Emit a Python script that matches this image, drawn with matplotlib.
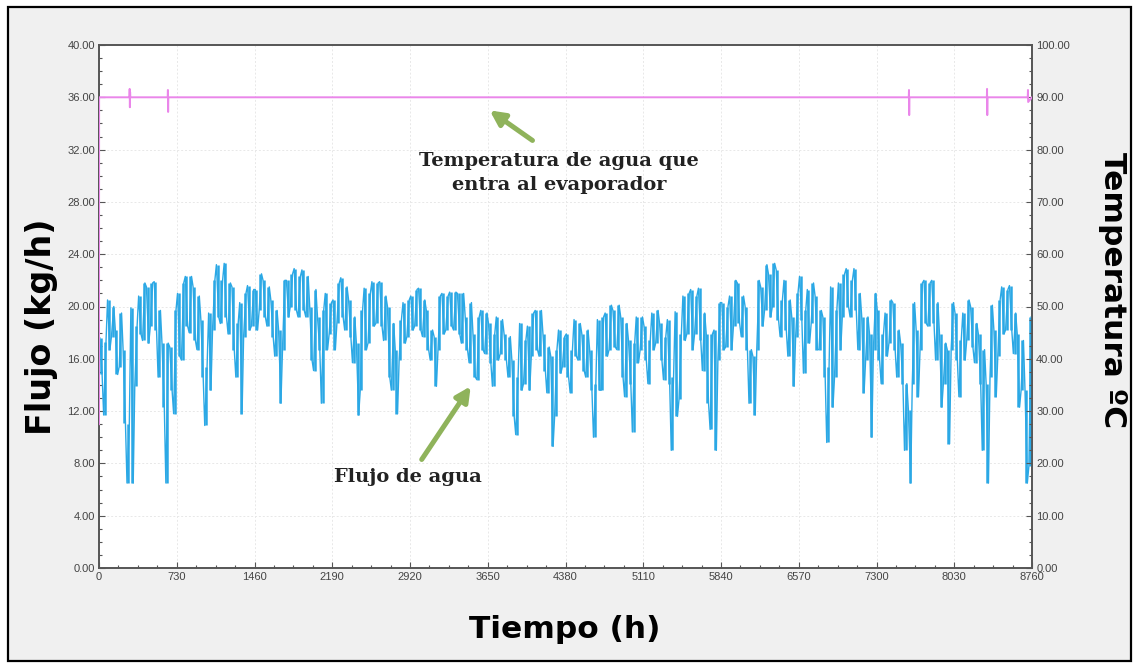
"""Flujo de agua y temperatura de entrada al evaporador a lo largo de un año (8760 h)."""

import matplotlib

matplotlib.use("Agg")
import matplotlib.pyplot as plt
import numpy as np
from matplotlib.patches import Rectangle
from matplotlib.ticker import MultipleLocator, FormatStrFormatter

# Flujo de agua (kg/h): máximo y mínimo leídos por tramos de 36.5 h
FLUJO_MAX = [
    17.6, 17.3, 20.5, 20.0, 18.2, 19.5, 16.7, 11.0, 19.9, 18.5,
    20.8, 21.8, 21.5, 21.8, 21.9, 19.7, 17.2, 17.2, 16.9, 19.7,
    21.0, 21.8, 22.3, 22.3, 21.5, 20.8, 19.0, 15.4, 19.5, 22.0,
    23.2, 22.0, 23.3, 21.8, 21.5, 18.7, 20.3, 21.0, 21.6, 21.3,
    21.3, 22.5, 22.0, 21.5, 20.5, 19.7, 18.2, 22.0, 22.0, 22.5,
    22.9, 22.3, 22.8, 22.3, 20.0, 21.3, 19.2, 19.7, 21.0, 20.3,
    20.5, 21.8, 22.2, 21.5, 20.5, 19.2, 17.2, 19.7, 21.4, 21.0,
    21.9, 21.8, 21.9, 20.8, 20.0, 18.7, 16.7, 19.0, 20.3, 20.5,
    20.8, 21.3, 21.4, 20.5, 19.7, 18.2, 17.7, 20.8, 21.0, 20.8,
    21.1, 21.1, 21.0, 21.0, 19.2, 20.3, 17.9, 19.2, 19.7, 19.5,
    18.7, 17.9, 19.2, 19.0, 17.9, 17.7, 15.9, 14.6, 18.7, 17.4,
    18.5, 19.5, 19.7, 19.7, 17.9, 16.9, 16.2, 16.7, 18.2, 17.7,
    17.9, 16.7, 19.0, 18.7, 17.9, 18.2, 16.7, 14.1, 19.0, 19.2,
    19.5, 20.1, 19.7, 20.1, 19.2, 18.7, 17.4, 17.2, 19.2, 19.2,
    18.5, 17.4, 19.5, 19.7, 18.7, 17.7, 19.0, 14.6, 19.6, 17.9,
    20.8, 21.0, 21.3, 20.8, 21.4, 19.5, 17.9, 17.9, 18.2, 20.3,
    20.3, 20.0, 20.8, 22.0, 21.8, 20.8, 20.0, 16.7, 16.2, 22.0,
    21.5, 23.2, 22.5, 23.3, 22.8, 20.5, 22.0, 20.5, 19.2, 21.0,
    22.3, 19.7, 21.3, 21.8, 20.8, 19.7, 19.2, 15.4, 21.5, 19.7,
    21.8, 22.5, 22.9, 22.0, 22.9, 21.0, 19.2, 19.2, 17.9, 21.0,
    19.7, 17.9, 19.5, 20.5, 20.3, 18.2, 17.2, 14.1, 12.1, 20.3,
    18.2, 21.8, 22.0, 21.8, 22.0, 20.3, 17.9, 17.2, 16.7, 20.3,
    19.5, 17.4, 19.5, 20.5, 20.0, 18.7, 17.9, 16.7, 14.1, 20.1,
    18.2, 20.5, 21.5, 21.3, 21.6, 19.5, 17.9, 17.4, 13.6, 19.2,
]
FLUJO_MIN = [
    14.8, 11.7, 16.7, 17.7, 14.8, 15.4, 11.1, 6.5, 6.5, 13.9,
    17.9, 17.4, 17.2, 18.5, 18.2, 14.6, 12.3, 6.5, 13.6, 11.8,
    16.2, 15.9, 18.5, 18.0, 17.4, 16.7, 14.6, 10.9, 13.6, 18.2,
    19.2, 18.7, 19.2, 17.9, 16.7, 14.6, 11.8, 17.7, 18.2, 18.5,
    18.2, 19.7, 19.2, 18.5, 17.7, 16.2, 12.6, 16.7, 19.2, 20.0,
    19.7, 19.2, 19.7, 19.2, 15.9, 15.1, 16.7, 12.6, 16.7, 17.9,
    16.7, 18.7, 19.2, 18.2, 17.7, 15.7, 11.7, 13.6, 16.7, 17.2,
    18.5, 18.7, 18.5, 17.4, 14.6, 13.6, 11.8, 15.9, 17.2, 17.7,
    18.2, 18.5, 18.2, 17.7, 16.7, 15.9, 13.9, 16.7, 17.9, 18.2,
    18.5, 18.2, 17.9, 17.2, 16.7, 15.7, 14.6, 14.4, 16.7, 16.4,
    15.7, 13.9, 15.9, 16.4, 15.9, 14.6, 11.6, 10.2, 13.6, 14.1,
    13.6, 16.2, 16.7, 16.2, 15.1, 13.4, 9.3, 11.6, 14.9, 15.4,
    14.6, 13.4, 16.2, 15.9, 15.1, 14.6, 13.6, 10.0, 13.6, 13.6,
    16.2, 16.7, 16.9, 16.7, 14.6, 13.1, 14.1, 10.4, 15.7, 16.7,
    15.9, 14.1, 16.7, 17.2, 15.9, 14.4, 14.1, 9.0, 11.6, 12.9,
    17.4, 17.9, 16.7, 17.9, 17.4, 15.1, 12.6, 10.6, 9.0, 15.9,
    16.7, 16.9, 16.7, 18.5, 18.7, 17.7, 16.7, 12.6, 11.7, 16.7,
    18.5, 19.7, 19.2, 20.0, 19.0, 17.7, 18.2, 16.2, 13.9, 17.7,
    19.0, 14.9, 17.2, 18.7, 16.7, 16.7, 14.6, 9.6, 12.3, 14.6,
    16.7, 19.2, 20.0, 19.2, 19.7, 16.7, 13.4, 15.9, 10.0, 16.7,
    15.9, 14.1, 16.2, 17.2, 16.7, 14.6, 14.1, 9.0, 6.5, 14.1,
    13.1, 16.7, 18.7, 18.5, 18.7, 15.9, 12.3, 14.1, 9.5, 16.7,
    15.9, 13.1, 15.9, 17.4, 16.9, 15.7, 14.1, 9.0, 6.5, 14.6,
    13.1, 16.2, 17.9, 18.2, 18.2, 16.4, 12.3, 13.6, 6.5, 7.8,
]
TRAMO_H = 36.5

# Temperatura del agua que entra al evaporador (ºC)
TEMP_HORAS = [0, 1, 286, 288, 290, 292, 294, 645, 647, 649, 651,
              7603, 7605, 7607, 7609, 8336, 8338, 8340, 8342,
              8720, 8722, 8724, 8760]
TEMP_VALORES = [27.5, 90.0, 90.0, 91.6, 88.1, 91.0, 90.0, 90.0, 91.4, 87.2, 90.0,
                90.0, 91.4, 86.6, 90.0, 90.0, 91.6, 86.6, 90.0,
                90.0, 91.4, 89.1, 90.0]

X_TICKS = [0, 730, 1460, 2190, 2920, 3650, 4380, 5110, 5840, 6570, 7300, 8030, 8760]

FLUJO_COLOR = "#2ba8e5"
TEMP_COLOR = "#ea86ea"
ARROW_COLOR = "#8fb35b"
W, H = 1136, 665


def zigzag(vmax, vmin, width):
    xs, ys = [], []
    for i, (hi, lo) in enumerate(zip(vmax, vmin)):
        t0 = i * width
        first, second = (hi, lo) if i % 2 == 0 else (lo, hi)
        xs += [t0 + 0.2 * width, t0 + 0.8 * width]
        ys += [first, second]
    return np.array(xs), np.array(ys)


fig = plt.figure(figsize=(W / 100, H / 100), dpi=100, facecolor="white")
frame = Rectangle((8 / W, 1 - 661 / H), 1123 / W, 654 / H, transform=fig.transFigure,
                  facecolor="#f0f0f0", edgecolor="black", linewidth=1.6, zorder=-10)
fig.add_artist(frame)

ax = fig.add_axes([99 / W, 1 - 568 / H, 933 / W, 523 / H])
ax.set_facecolor("white")
ax2 = ax.twinx()

# banda densa del flujo horario: trazo vertical por tramo + línea en zigzag
centros = np.arange(len(FLUJO_MAX)) * TRAMO_H + TRAMO_H / 2
ax.vlines(centros, FLUJO_MIN, FLUJO_MAX, color=FLUJO_COLOR, linewidth=1.8, zorder=3)
x_f, y_f = zigzag(FLUJO_MAX, FLUJO_MIN, TRAMO_H)
ax.plot(x_f, y_f, color=FLUJO_COLOR, linewidth=1.0, zorder=3)
ax2.plot(TEMP_HORAS, TEMP_VALORES, color=TEMP_COLOR, linewidth=1.4, zorder=3)

ax.set_xlim(0, 8760)
ax.set_ylim(0, 40)
ax2.set_ylim(0, 100)

ax.set_xticks(X_TICKS)
ax.xaxis.set_minor_locator(MultipleLocator(182.5))
ax.yaxis.set_major_locator(MultipleLocator(4))
ax.yaxis.set_minor_locator(MultipleLocator(1))
ax.yaxis.set_major_formatter(FormatStrFormatter("%.2f"))
ax2.yaxis.set_major_locator(MultipleLocator(10))
ax2.yaxis.set_minor_locator(MultipleLocator(2.5))
ax2.yaxis.set_major_formatter(FormatStrFormatter("%.2f"))

for a in (ax, ax2):
    a.tick_params(which="both", direction="in", color="#555555", width=0.8)
    a.tick_params(which="major", length=4, pad=3)
    a.tick_params(which="minor", length=2)
    for lab in a.get_xticklabels() + a.get_yticklabels():
        lab.set_fontfamily(["Liberation Sans", "DejaVu Sans"])
        lab.set_fontsize(8)
        lab.set_color("#444444")
    for sp in a.spines.values():
        sp.set_color("#555555")
        sp.set_linewidth(1.2)

ax.grid(True, which="major", color="#e8e8e8", linewidth=0.7, linestyle=(0, (2, 2)))
ax.set_axisbelow(True)

serif = ["DejaVu Serif"]
ax.text(4320, 30.2, "Temperatura de agua que\nentra al evaporador", ha="center", va="center",
        fontsize=14, fontweight="bold", family=serif, color="#222222",
        linespacing=1.45, zorder=5)
ax.text(2900, 6.96, "Flujo de agua", ha="center", va="center",
        fontsize=14, fontweight="bold", family=serif, color="#222222", zorder=5)

arrow = dict(arrowstyle="-|>", color=ARROW_COLOR, lw=3.6, mutation_scale=22,
             shrinkA=0, shrinkB=0)
ax.annotate("", xy=(3668, 35.0), xytext=(4070, 32.7), arrowprops=arrow, zorder=5)
ax.annotate("", xy=(3490, 13.9), xytext=(3030, 8.3), arrowprops=arrow, zorder=5)

label_font = dict(fontweight="bold", family="DejaVu Sans", color="black")
fig.text(42 / W, 1 - 327 / H, "Flujo (kg/h)", rotation=90, ha="center", va="center",
         fontsize=24, **label_font)
fig.text(1112 / W, 1 - 290 / H, "Temperatura ºC", rotation=-90, ha="center", va="center",
         fontsize=22.5, **label_font)
fig.text(565 / W, 1 - 630 / H, "Tiempo (h)", ha="center", va="center",
         fontsize=22.5, **label_font)

fig.savefig("out.png", dpi=100, facecolor=fig.get_facecolor())
